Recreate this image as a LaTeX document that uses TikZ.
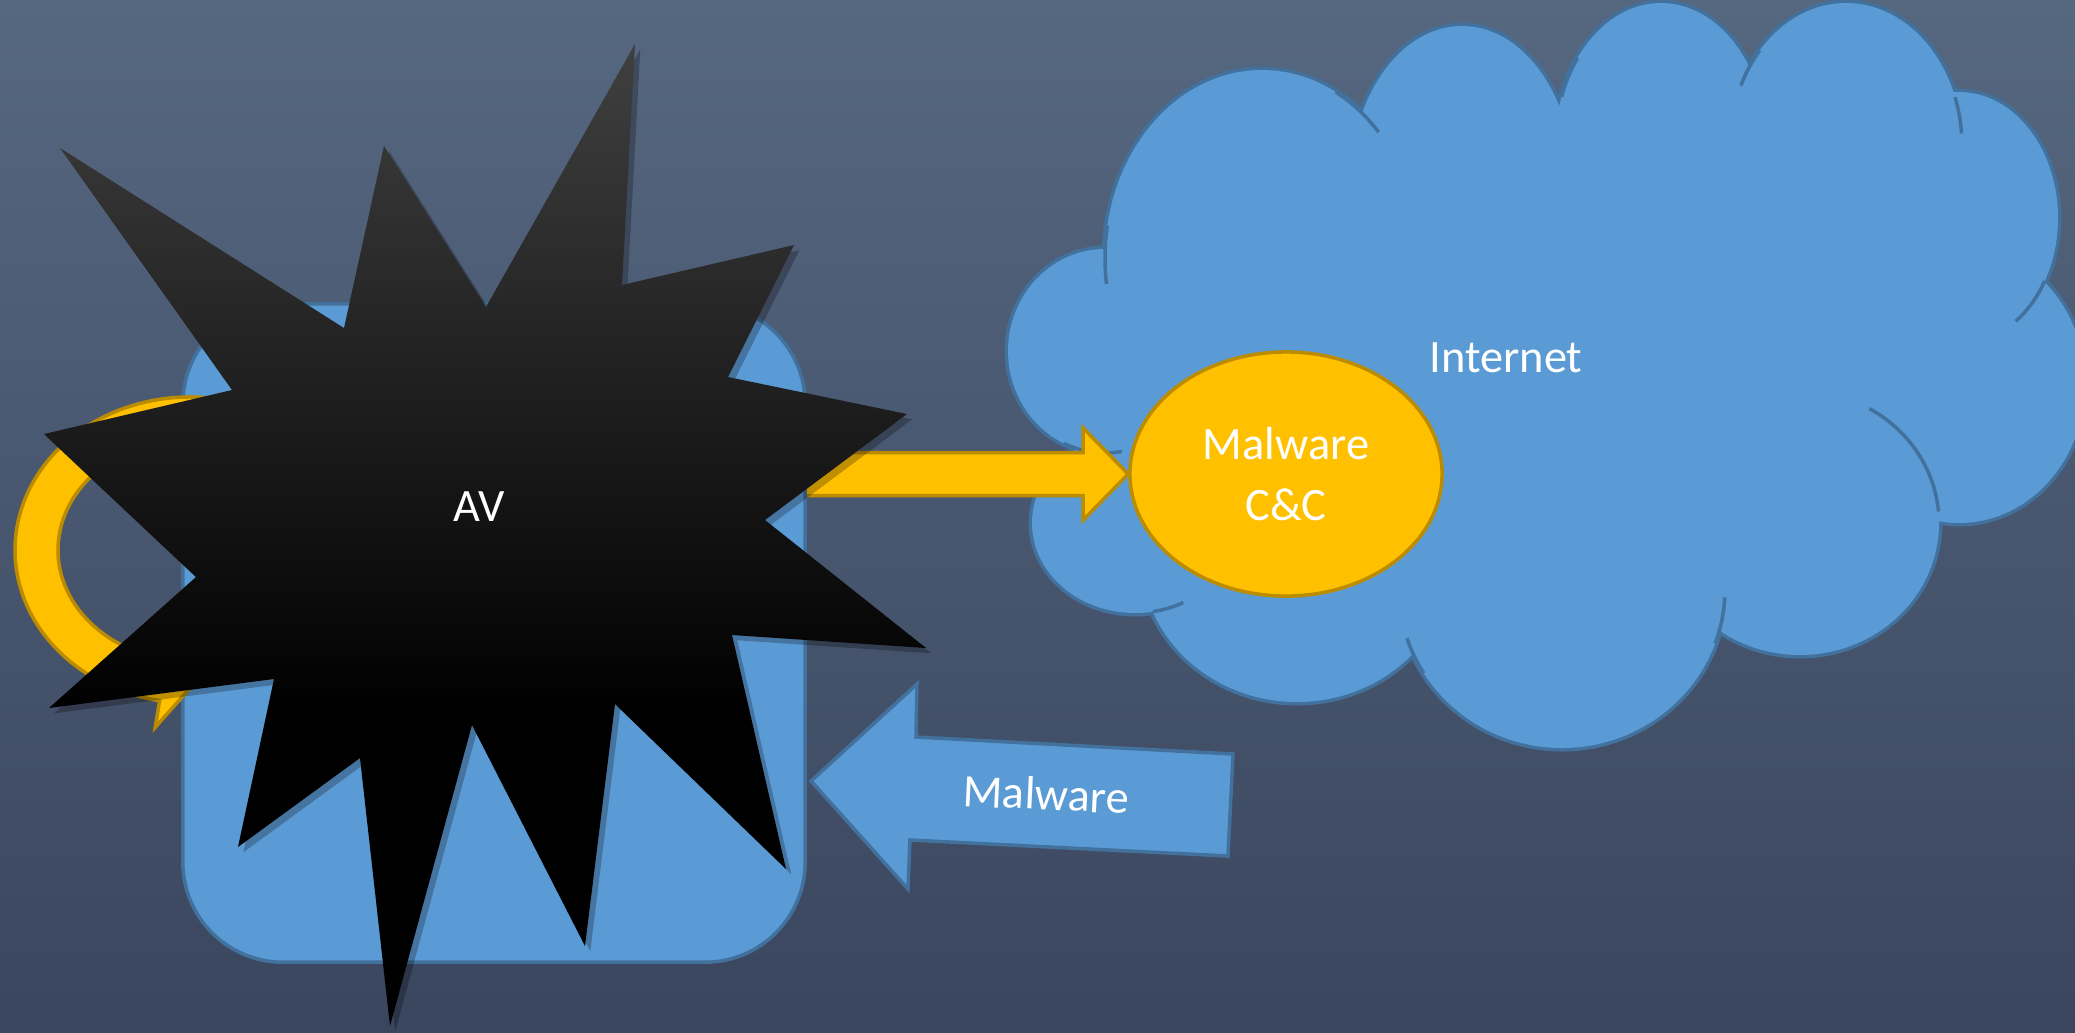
\documentclass[tikz,border=0pt]{standalone}
\usepackage{fontspec}
\setmainfont{Carlito}
\usetikzlibrary{calc, positioning, shapes.geometric, shadows}

\definecolor{bgtop}{HTML}{566780}
\definecolor{bgbottom}{HTML}{3A465E}
\definecolor{boxblue}{HTML}{5B9BD5}
\definecolor{boxline}{HTML}{41719C}
\definecolor{gold}{HTML}{FFC000}
\definecolor{goldline}{HTML}{BC8C00}

\pgfdeclareverticalshading{avshade}{100bp}{color(0bp)=(black); color(41bp)=(black);
  color(75bp)=(black!75); color(100bp)=(black!75)}

\tikzset{
  bluebox/.style={fill=boxblue, draw=boxline, line width=1pt},
  goldshape/.style={fill=gold, draw=goldline, line width=1pt},
  whitetext/.style={text=white, font=\fontsize{13.2}{17.6}\selectfont, align=center},
  cloudlobe/.style={draw=boxline, line width=2pt},
}

% lobes of the cloud: centre x / centre y / x radius / y radius
\def\cloudlobes{1262/258/157/188, 1462/185/112/159, 1661/146/106/143,
  1846/146/116/143, 1959/218/99/126, 1959/384/126/139, 1800/523/139/132,
  1562/589/163/159, 1297/556/156/146, 1135/523/103/90, 1105/351/97/102}

\begin{document}
\begin{tikzpicture}[x=0.01cm, y=-0.01cm]

% background
\shade[top color=bgtop, bottom color=bgbottom] (0,0) rectangle (2075,1032);
\useasboundingbox (0,0) rectangle (2075,1032);

% cloud
\foreach \cx/\cy/\rx/\ry in \cloudlobes
  \draw[cloudlobe] (\cx,\cy) ellipse [x radius=\rx, y radius=\ry];
\foreach \cx/\cy/\rx/\ry in \cloudlobes
  \fill[boxblue] (\cx,\cy) ellipse [x radius=\rx, y radius=\ry];
\fill[boxblue] (1535,357) ellipse [x radius=397, y radius=251];
\foreach \cx/\cy/\rx/\ry/\a/\b in {1262/258/157/188/172/190, 1262/258/157/188/298/318,
  1661/146/106/143/200/218, 1846/146/116/143/205/222, 1846/146/116/143/340/355,
  1959/218/99/126/30/55, 1800/523/139/132/300/355, 1562/589/163/159/3/20,
  1562/589/163/159/148/162, 1135/523/103/90/62/80, 1105/351/97/102/80/115}
  \draw[boxline, line width=1pt] (\cx,\cy) ++({\rx*cos(\a)},{\ry*sin(\a)})
    arc[start angle=\a, end angle=\b, x radius=\rx, y radius=\ry];

\node[whitetext] (internet) at (1506,358) {Internet};

% command and control server
\node[goldshape, ellipse, inner sep=0, minimum width=3.12cm, minimum height=2.44cm]
  (cnc) at (1286,474) {};
\node[whitetext] (cnctext) at (cnc.center) {Malware\\C\&C};

% call home
\draw[goldshape] ($(cnc.west)+(-350,-21.5)$) -- ($(cnc.west)+(-45,-21.5)$)
  -- ($(cnc.west)+(-45,-46)$) -- (cnc.west) -- ($(cnc.west)+(-45,46)$)
  -- ($(cnc.west)+(-45,21.5)$) -- ($(cnc.west)+(-350,21.5)$) -- cycle;

% host
\node[bluebox, rounded corners=1cm, inner sep=0, minimum width=6.22cm,
  minimum height=6.58cm] (host) at (494,633) {};

% loop arrow
\begin{scope}[shift={(190,550)}]
\draw[goldshape] ({175*cos(290)},{153*sin(290)})
  arc[start angle=290, end angle=100, x radius=175, y radius=153]
  -- ({200*cos(100)},{180*sin(100)}) -- ({154*cos(88)},{132*sin(88)})
  -- ({107*cos(100)},{86*sin(100)}) -- ({132*cos(100)},{111*sin(100)})
  arc[start angle=100, end angle=290, x radius=132, y radius=111] -- cycle;
\end{scope}

% antivirus
\shade[shading=avshade,
  drop shadow={shadow xshift=1.5pt, shadow yshift=-1.5pt, fill=black, opacity=0.25}]
  (60,148) -- (344,328) -- (384,146) -- (486,307) -- (635,44) -- (622,285)
  -- (794,245) -- (728,377) -- (907,414) -- (765,520) -- (926,648) -- (732,635)
  -- (786,869) -- (615,704) -- (585,946) -- (472,725) -- (390,1026) -- (360,758)
  -- (238,847) -- (274,679) -- (49,708) -- (196,577) -- (44,434) -- (232,390) -- cycle;
\node[whitetext] (av) at (479,507) {AV};

% incoming malware
\draw[bluebox] (811,781) -- (917,684) -- (916,737) -- (1233,754) -- (1228,856)
  -- (910,840) -- (908,889) -- cycle;
\node[whitetext, rotate=-2.7] (malware) at (1046,794) {Malware};

\end{tikzpicture}
\end{document}
